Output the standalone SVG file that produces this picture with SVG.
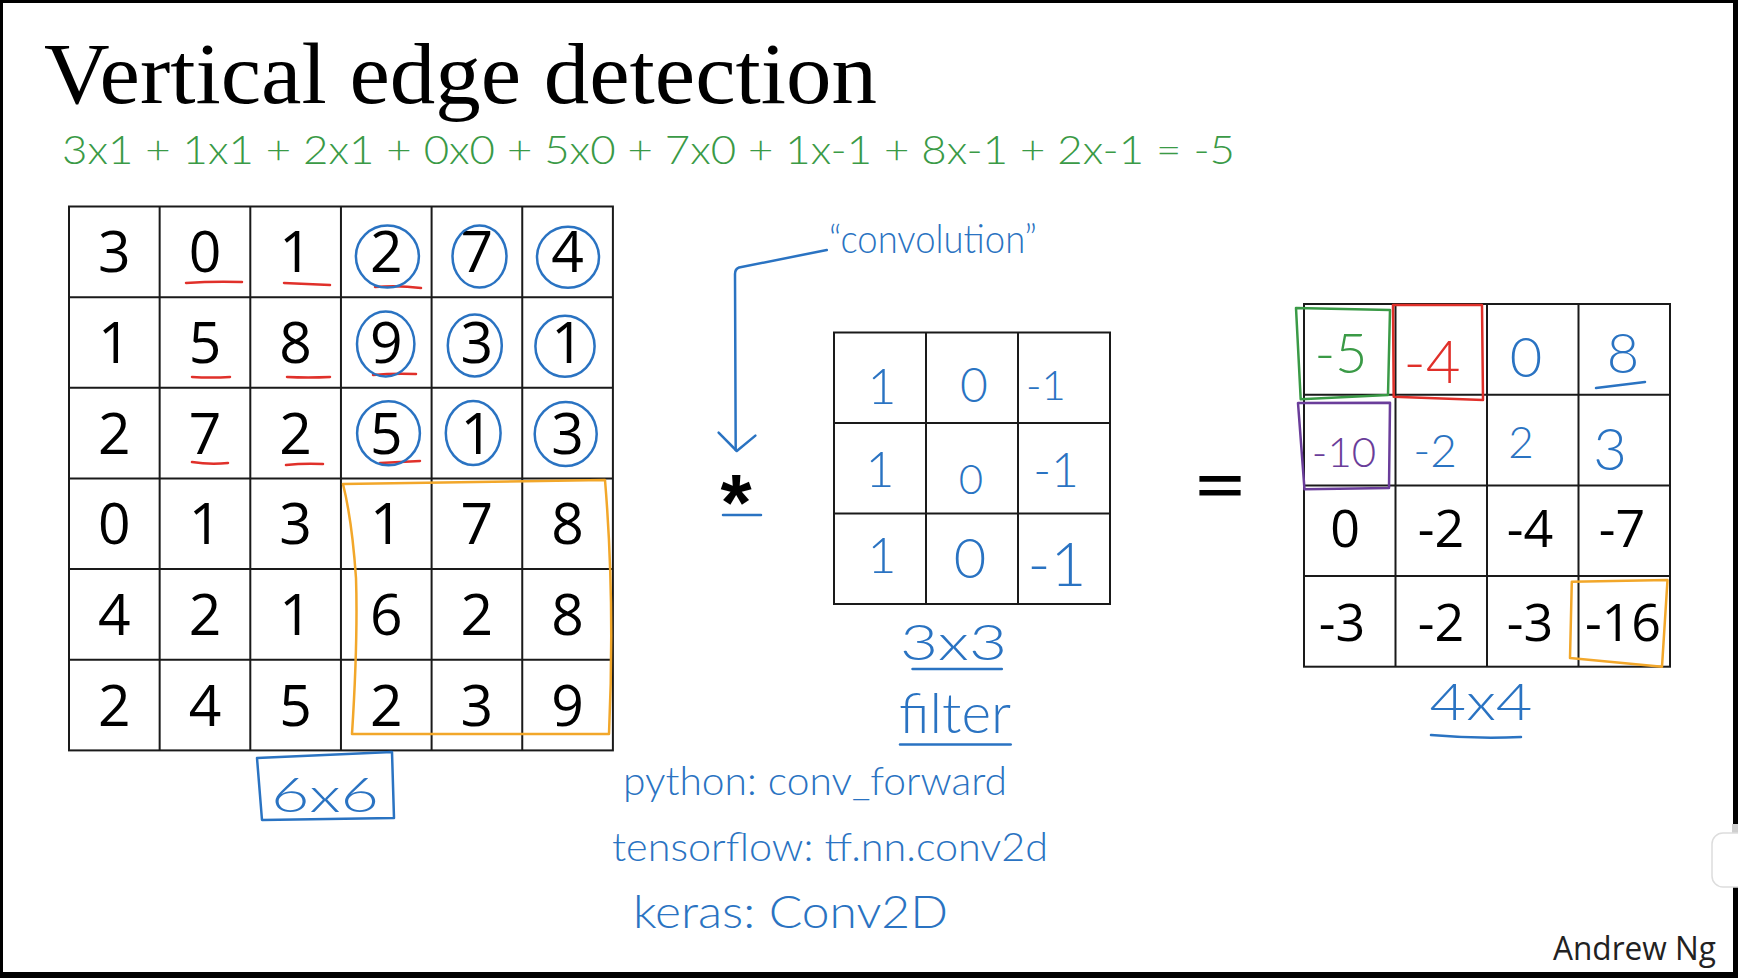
<svg xmlns="http://www.w3.org/2000/svg" width="1738" height="978" viewBox="0 0 1738 978">
<style>
.grid{fill:none;stroke:#1a1a1a;stroke-width:2}
.num{font-family:"Open Sans","Liberation Sans",sans-serif;font-size:57px;fill:#000;text-anchor:middle}
.num4{font-size:52px}
.hw{font-family:Lato,"Open Sans","Liberation Sans",sans-serif;font-weight:300;fill:#2a73c2}
.hwc{text-anchor:middle}
.bs{fill:none;stroke:#2a73c2;stroke-width:2.5;stroke-linecap:round;stroke-linejoin:round}
.rs{fill:none;stroke:#e0302a;stroke-width:2.5;stroke-linecap:round}
.gs{fill:none;stroke:#3a9a46;stroke-width:2.5;stroke-linejoin:round}
.ps{fill:none;stroke:#6a3d9a;stroke-width:2.5;stroke-linejoin:round}
.os{fill:none;stroke:#f2a72a;stroke-width:2.5;stroke-linejoin:round}
</style>
<rect x="0" y="0" width="1738" height="978" fill="#000"/>
<rect x="3" y="3" width="1730" height="969" fill="#fff"/>

<g id="title">
<text x="44" y="103.3" font-family="'Liberation Serif','Times New Roman',serif" font-size="86" fill="#000" textLength="833" lengthAdjust="spacingAndGlyphs">Vertical edge detection</text>
</g>

<g id="equation">
<text class="hw" x="62" y="164" font-size="40" style="fill:#3a9a46" textLength="1173" lengthAdjust="spacingAndGlyphs">3x1 + 1x1 + 2x1 + 0x0 + 5x0 + 7x0 + 1x-1 + 8x-1 + 2x-1 = -5</text>
</g>

<g id="input-matrix">
<rect class="grid" x="69" y="206.5" width="543.9" height="543.9"/>
<path class="grid" d="M159.65 206.5V750.4M250.3 206.5V750.4M340.95 206.5V750.4M431.6 206.5V750.4M522.25 206.5V750.4M69 297.15H612.9M69 387.8H612.9M69 478.45H612.9M69 569.1H612.9M69 659.75H612.9"/>
<g class="num">
<text x="114.3" y="272.3">3</text><text x="205" y="272.3">0</text><text x="295.6" y="272.3">1</text><text x="386.3" y="272.3">2</text><text x="476.9" y="272.3">7</text><text x="567.6" y="272.3">4</text>
<text x="114.3" y="363">1</text><text x="205" y="363">5</text><text x="295.6" y="363">8</text><text x="386.3" y="363">9</text><text x="476.9" y="363">3</text><text x="567.6" y="363">1</text>
<text x="114.3" y="453.6">2</text><text x="205" y="453.6">7</text><text x="295.6" y="453.6">2</text><text x="386.3" y="453.6">5</text><text x="476.9" y="453.6">1</text><text x="567.6" y="453.6">3</text>
<text x="114.3" y="544.3">0</text><text x="205" y="544.3">1</text><text x="295.6" y="544.3">3</text><text x="386.3" y="544.3">1</text><text x="476.9" y="544.3">7</text><text x="567.6" y="544.3">8</text>
<text x="114.3" y="634.9">4</text><text x="205" y="634.9">2</text><text x="295.6" y="634.9">1</text><text x="386.3" y="634.9">6</text><text x="476.9" y="634.9">2</text><text x="567.6" y="634.9">8</text>
<text x="114.3" y="725.6">2</text><text x="205" y="725.6">4</text><text x="295.6" y="725.6">5</text><text x="386.3" y="725.6">2</text><text x="476.9" y="725.6">3</text><text x="567.6" y="725.6">9</text>
</g>
</g>

<g id="input-annotations">
<path class="rs" d="M186 283Q214 281 242 282M284 283Q307 284 330 285M375 287Q398 285 421 288M192 377Q211 378 230 377M287 377Q308 378 330 377M373 375Q394 373 416 374M192 462Q210 465 228 463M286 465Q304 463 323 464M380 463Q400 462 420 461"/>
<g class="bs">
<ellipse cx="387.4" cy="256.6" rx="31.5" ry="31"/>
<ellipse cx="479.5" cy="256.6" rx="27" ry="31"/>
<ellipse cx="568" cy="257.3" rx="31" ry="30.5"/>
<ellipse cx="385.7" cy="344" rx="28.7" ry="32.5"/>
<ellipse cx="474.8" cy="345.4" rx="27" ry="31"/>
<ellipse cx="565" cy="346.3" rx="29.6" ry="30.5"/>
<ellipse cx="388.5" cy="433.2" rx="31.4" ry="32"/>
<ellipse cx="473.2" cy="433" rx="27.4" ry="32"/>
<ellipse cx="565.7" cy="434" rx="31" ry="32"/>
</g>
<path class="os" d="M343 484L605 480Q615 600 609 734L352 734Q358 640 356 578Q352 520 343 484Z"/>
</g>

<g id="input-label">
<path class="bs" d="M257 758L392 752L394 818L262 820Z"/>
<text class="hw hwc" x="325" y="812" font-size="48" textLength="108" lengthAdjust="spacingAndGlyphs">6x6</text>
</g>

<g id="operator-conv">
<text x="736" y="530" font-family="'Liberation Sans',Arial,sans-serif" font-weight="bold" font-size="80" fill="#000" text-anchor="middle">*</text>
<path class="bs" d="M723 515L761 515"/>
</g>

<g id="conv-label">
<text class="hw" x="829" y="253" font-size="40" textLength="208" lengthAdjust="spacingAndGlyphs">“convolution”</text>
</g>

<g id="connectors">
<path class="bs" d="M826.8 250L739 267.5Q735 269 735 274L735.7 450"/>
<path class="bs" d="M718.6 432.6L736.8 451L755.4 435.6"/>
</g>

<g id="filter-matrix">
<rect class="grid" x="834" y="332.5" width="276" height="271.5"/>
<path class="grid" d="M926 332.5V604M1018 332.5V604M834 423H1110M834 513.5H1110"/>
<g class="hw hwc">
<text x="882" y="404" font-size="50">1</text>
<text x="974" y="402" font-size="48">0</text>
<text x="1046" y="400" font-size="42">-1</text>
<text x="880" y="487" font-size="50">1</text>
<text x="971" y="494" font-size="42">0</text>
<text x="1056" y="487" font-size="48">-1</text>
<text x="882" y="573" font-size="50">1</text>
<text x="970" y="578" font-size="56">0</text>
<text x="1057" y="586" font-size="62">-1</text>
</g>
</g>

<g id="filter-label">
<text class="hw hwc" x="953.5" y="660" font-size="50" textLength="107" lengthAdjust="spacingAndGlyphs">3x3</text>
<path class="bs" d="M912.5 669L1001.8 669"/>
<text class="hw hwc" x="955" y="733" font-size="56" textLength="112" lengthAdjust="spacingAndGlyphs">filter</text>
<path class="bs" d="M900 744.5L1010.7 744.5"/>
</g>

<g id="code-notes">
<text class="hw" x="623" y="795" font-size="40" textLength="384" lengthAdjust="spacingAndGlyphs">python: conv_forward</text>
<text class="hw" x="612" y="861" font-size="40" textLength="436" lengthAdjust="spacingAndGlyphs">tensorflow: tf.nn.conv2d</text>
<text class="hw" x="633" y="928" font-size="46" textLength="315" lengthAdjust="spacingAndGlyphs">keras: Conv2D</text>
</g>

<g id="operator-eq">
<text x="1220" y="503" font-family="'Liberation Sans',Arial,sans-serif" font-weight="bold" font-size="52" fill="#000" text-anchor="middle" textLength="48" lengthAdjust="spacingAndGlyphs">=</text>
</g>

<g id="output-matrix">
<rect class="grid" x="1304" y="304" width="366" height="362.7"/>
<path class="grid" d="M1395.5 304V666.7M1487 304V666.7M1578.5 304V666.7M1304 394.7H1670M1304 485.4H1670M1304 576H1670"/>
<g class="hw hwc">
<text x="1341" y="373" font-size="56" style="fill:#3a9a46">-5</text>
<text x="1432" y="383" font-size="60" style="fill:#e0302a">-4</text>
<text x="1526" y="377" font-size="56">0</text>
<text x="1623" y="373" font-size="56">8</text>
<text x="1344" y="467" font-size="42" style="fill:#6a3d9a">-10</text>
<text x="1435" y="467" font-size="46">-2</text>
<text x="1521" y="458" font-size="44">2</text>
<text x="1610" y="470" font-size="58">3</text>
</g>
<g class="num num4">
<text x="1345" y="547">0</text><text x="1441" y="547">-2</text><text x="1530" y="547">-4</text><text x="1622" y="547">-7</text>
<text x="1342" y="641">-3</text><text x="1441" y="641">-2</text><text x="1530" y="641">-3</text><text x="1623" y="641">-16</text>
</g>
</g>

<g id="output-annotations">
<path class="gs" d="M1296 308L1390 310L1388 395L1300.7 399.3Z"/>
<path class="rs" style="stroke-linejoin:round" d="M1393 305L1482 305L1483 400L1393.7 396.7Z"/>
<path class="ps" d="M1298 403L1390 402.7L1389 488L1304.5 489.3Z"/>
<path class="os" d="M1571.8 581.7L1667.5 580L1662 666.7L1570 658Z"/>
<path class="bs" d="M1596 388L1645 382"/>
</g>

<g id="output-label">
<text class="hw hwc" x="1481" y="720" font-size="52" textLength="103" lengthAdjust="spacingAndGlyphs">4x4</text>
<path class="bs" d="M1431 735Q1476 739 1521 737"/>
</g>

<g id="author">
<text x="1553" y="960" font-family="'Open Sans','Liberation Sans',sans-serif" font-size="33" fill="#222" textLength="163" lengthAdjust="spacingAndGlyphs">Andrew Ng</text>
</g>

<g id="player-tab">
<rect x="1732" y="824" width="6" height="63" fill="#cfcfcf"/>
<rect x="1712" y="833" width="40" height="54" rx="11" fill="#fff" stroke="#dddddd" stroke-width="1.5"/>
</g>
</svg>
